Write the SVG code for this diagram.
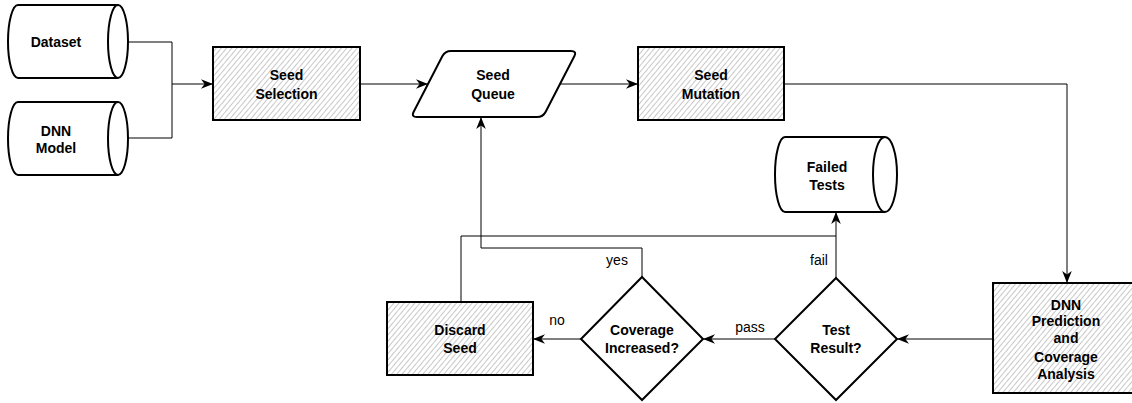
<svg xmlns="http://www.w3.org/2000/svg" width="1132" height="403" viewBox="0 0 1132 403">
<style>
.shape{fill:#fff;stroke:#000;stroke-width:2}
.hatch{fill:url(#hatch);stroke:#000;stroke-width:2}
.inner{fill:none;stroke:#000;stroke-width:2}
.conn{fill:none;stroke:#000;stroke-width:1}
.lbl{font-family:"Liberation Sans",Arial,sans-serif;font-size:14px;font-weight:bold;text-anchor:middle;fill:#000}
.elbl{font-family:"Liberation Sans",Arial,sans-serif;font-size:14px;text-anchor:middle;fill:#000}
</style>
<defs>
<pattern id="hatch" patternUnits="userSpaceOnUse" width="4" height="4" patternTransform="rotate(40)">
<rect width="4" height="4" fill="#fff"/>
<line x1="0.5" y1="0" x2="0.5" y2="4" stroke="#c8c8c8" stroke-width="1"/>
</pattern>
<marker id="arr" markerUnits="userSpaceOnUse" markerWidth="12" markerHeight="12" viewBox="0 0 10 10" refX="10" refY="5" orient="auto">
<path d="M0,1 L10,5 L0,9 L3,5 Z" fill="#000"/>
</marker>
</defs>
<rect width="1132" height="403" fill="#fff"/>
<g id="connectors">
<path class="conn" d="M128,42 H172 V84 H213" marker-end="url(#arr)"/>
<path class="conn" d="M128,138 H172 V84"/>
<path class="conn" d="M360,84 H428" marker-end="url(#arr)"/>
<path class="conn" d="M560,84 H638" marker-end="url(#arr)"/>
<path class="conn" d="M784,84 H1067 V283" marker-end="url(#arr)"/>
<path class="conn" d="M993,339 H897" marker-end="url(#arr)"/>
<path class="conn" d="M775,339 H703" marker-end="url(#arr)"/>
<path class="conn" d="M581,339 H533" marker-end="url(#arr)"/>
<path class="conn" d="M642,277 V248 H481 V117" marker-end="url(#arr)"/>
<path class="conn" d="M836,278 V212" marker-end="url(#arr)"/>
<path class="conn" d="M461,302 V236 H836"/>
<text class="elbl" x="617" y="265">yes</text>
<text class="elbl" x="557" y="325">no</text>
<text class="elbl" x="750" y="332">pass</text>
<text class="elbl" x="819" y="265">fail</text>
</g>
<g id="dataset">
<path class="shape" d="M18,5 H118 A10,36.5 0 0 1 118,78 H18 A10,36.5 0 0 1 18,5 Z"/>
<path class="inner" d="M118,5 A10,36.5 0 0 0 118,78"/>
<text class="lbl" x="56" y="47">Dataset</text>
</g>
<g id="dnn-model">
<path class="shape" d="M18,102 H118 A10,36.5 0 0 1 118,175 H18 A10,36.5 0 0 1 18,102 Z"/>
<path class="inner" d="M118,102 A10,36.5 0 0 0 118,175"/>
<text class="lbl" x="56" y="136">DNN</text>
<text class="lbl" x="56" y="153">Model</text>
</g>
<g id="seed-selection">
<rect class="hatch" x="213" y="47" width="147" height="73"/>
<text class="lbl" x="286.5" y="80">Seed</text>
<text class="lbl" x="286.5" y="99">Selection</text>
</g>
<g id="seed-queue">
<path class="shape" d="M451,51 H571 Q577,51 574.3,56.3 L545.7,111.7 Q543,117 537,117 H417 Q411,117 413.7,111.7 L442.3,56.3 Q445,51 451,51 Z"/>
<text class="lbl" x="493" y="80">Seed</text>
<text class="lbl" x="493" y="99">Queue</text>
</g>
<g id="seed-mutation">
<rect class="hatch" x="638" y="47" width="146" height="73"/>
<text class="lbl" x="711" y="80">Seed</text>
<text class="lbl" x="711" y="99">Mutation</text>
</g>
<g id="failed-tests">
<path class="shape" d="M785,137 H885 A12,37.5 0 0 1 885,212 H785 A10,37.5 0 0 1 785,137 Z"/>
<path class="inner" d="M885,137 A12,37.5 0 0 0 885,212"/>
<text class="lbl" x="827" y="172">Failed</text>
<text class="lbl" x="827" y="190">Tests</text>
</g>
<g id="dnn-prediction">
<rect class="hatch" x="993" y="283" width="148" height="110"/>
<text class="lbl" x="1066" y="310">DNN</text>
<text class="lbl" x="1066" y="326">Prediction</text>
<text class="lbl" x="1066" y="343">and</text>
<text class="lbl" x="1066" y="362">Coverage</text>
<text class="lbl" x="1066" y="379">Analysis</text>
</g>
<g id="test-result">
<path class="shape" d="M836,278 L897,339 L836,400 L775,339 Z"/>
<text class="lbl" x="836" y="335">Test</text>
<text class="lbl" x="836" y="353">Result?</text>
</g>
<g id="coverage-increased">
<path class="shape" d="M642,277 L703,339 L642,400 L581,339 Z"/>
<text class="lbl" x="642" y="335">Coverage</text>
<text class="lbl" x="642" y="353">Increased?</text>
</g>
<g id="discard-seed">
<rect class="hatch" x="387" y="302" width="146" height="73"/>
<text class="lbl" x="460" y="335">Discard</text>
<text class="lbl" x="460" y="353">Seed</text>
</g>
</svg>
